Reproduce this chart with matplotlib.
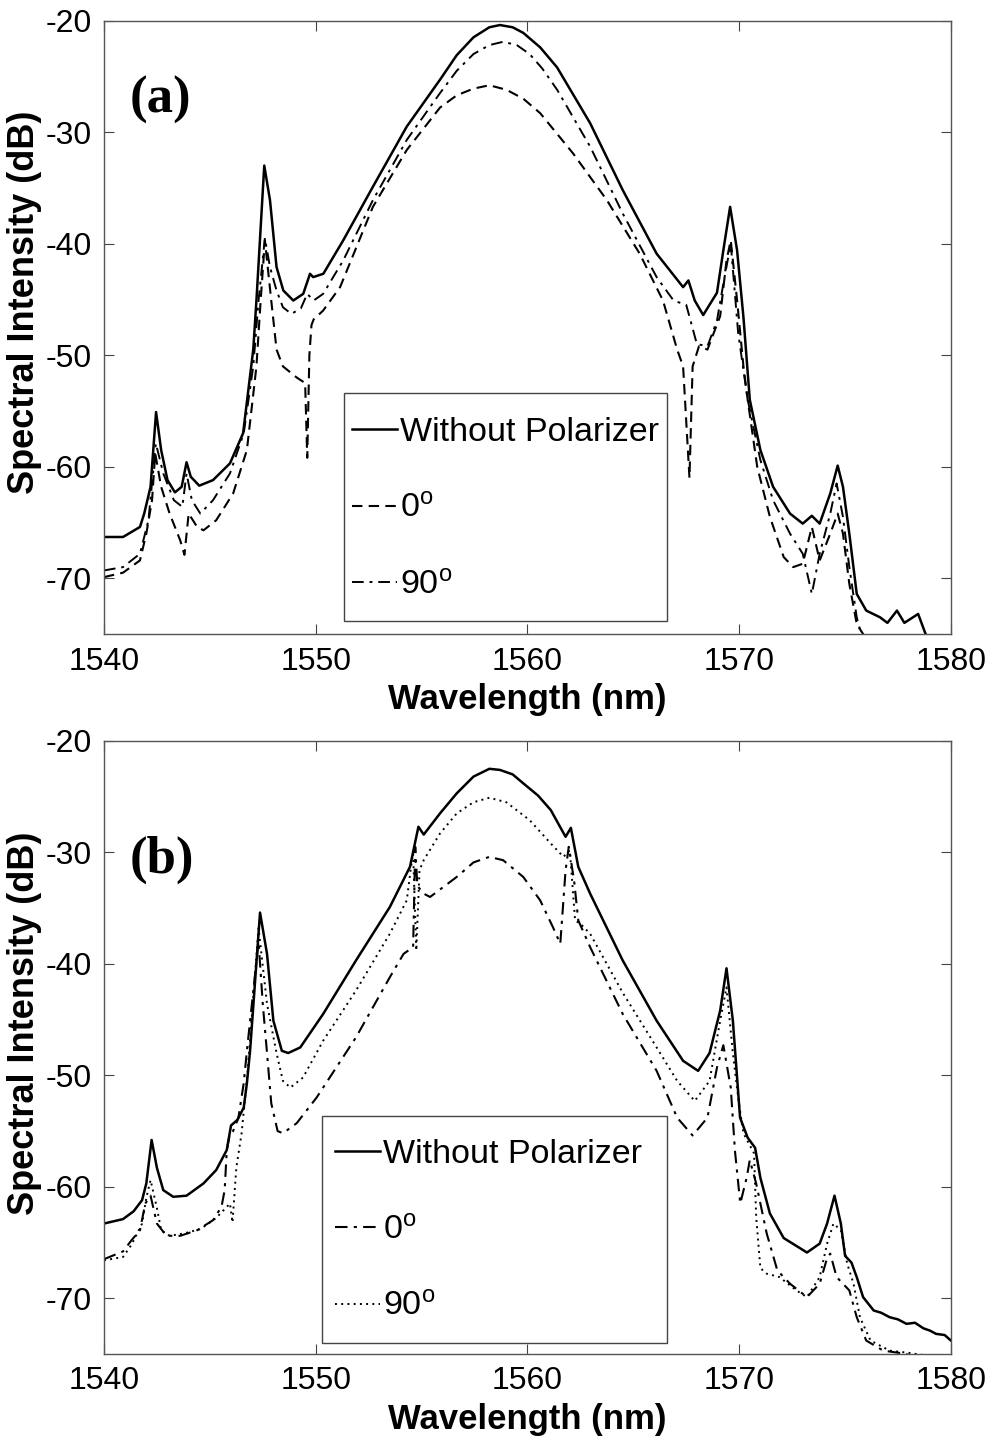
import matplotlib
matplotlib.use("Agg")
import matplotlib.pyplot as plt
from matplotlib.patches import Rectangle

# ---------------- data: panel (a) ----------------
wl_a_nopol = [1540.0, 1540.9, 1541.7, 1541.9, 1542.2, 1542.46, 1542.7, 1543.0, 1543.35, 1543.67, 1543.9, 1544.1,
              1544.5, 1545.15, 1545.95, 1546.57, 1547.05, 1547.2, 1547.57, 1547.84, 1548.15, 1548.47, 1548.94,
              1549.41, 1549.73, 1549.88, 1550.36, 1551.3, 1552.7, 1554.3, 1555.87, 1556.66, 1557.45, 1558.2,
              1558.7, 1559.3, 1559.8, 1560.6, 1561.4, 1562.96, 1564.5, 1566.1, 1567.35, 1567.6, 1567.9, 1568.3,
              1568.95, 1569.25, 1569.57, 1569.9, 1570.2, 1570.5, 1571.0, 1571.6, 1572.4, 1573.0, 1573.43, 1573.8,
              1574.3, 1574.65, 1574.9, 1575.2, 1575.55, 1576.0, 1576.65, 1577.0, 1577.45, 1577.8, 1578.45, 1578.9]
int_a_nopol = [-66.3, -66.3, -65.4, -64.2, -61.8, -55.1, -58.5, -61.2, -62.3, -61.8, -59.6, -60.9, -61.7, -61.2,
               -59.7, -57.0, -49.5, -45.1, -33.0, -36.1, -42.1, -44.2, -45.1, -44.5, -42.7, -43.0, -42.7, -39.7,
               -34.9, -29.5, -25.3, -23.1, -21.5, -20.6, -20.4, -20.6, -21.1, -22.4, -24.2, -29.2, -35.2, -40.9,
               -43.9, -43.3, -45.1, -46.4, -44.4, -40.6, -36.7, -40.6, -46.6, -54.0, -58.5, -61.8, -64.2, -65.1,
               -64.4, -65.1, -62.4, -59.9, -61.8, -66.0, -71.4, -72.9, -73.5, -74.0, -72.9, -74.0, -73.2, -75.5]

wl_a_0 = [1540.0, 1540.9, 1541.7, 1542.0, 1542.27, 1542.42, 1542.7, 1543.1, 1543.6, 1543.8, 1544.0, 1544.4, 1544.7,
          1545.3, 1546.1, 1546.75, 1547.2, 1547.4, 1547.6, 1547.9, 1548.15, 1548.45, 1549.1, 1549.5, 1549.6,
          1549.7, 1549.8, 1549.9, 1550.35, 1551.15, 1552.7, 1554.3, 1555.87, 1556.66, 1557.45, 1558.2, 1559.0,
          1559.8, 1560.6, 1562.15, 1563.75, 1565.3, 1566.4, 1567.07, 1567.35, 1567.65, 1567.8, 1568.1, 1568.5,
          1569.1, 1569.4, 1569.6, 1569.9, 1570.2, 1570.4, 1570.85, 1571.45, 1572.1, 1572.55, 1573.0, 1573.43,
          1573.8, 1574.3, 1574.65, 1574.9, 1575.2, 1575.55, 1575.85, 1576.2]
int_a_0 = [-69.9, -69.5, -68.4, -66.0, -63.0, -58.8, -61.8, -64.2, -66.6, -67.9, -64.2, -65.4, -65.7, -64.8,
           -62.4, -58.5, -51.0, -45.1, -39.7, -45.1, -49.5, -51.0, -52.0, -52.5, -59.2, -50.0, -47.3, -46.8,
           -46.0, -43.9, -36.7, -31.6, -27.8, -26.7, -26.1, -25.8, -26.2, -27.0, -28.3, -31.9, -36.1, -40.9,
           -45.1, -49.5, -51.0, -61.0, -51.0, -49.2, -49.5, -46.5, -41.5, -39.7, -45.1, -51.0, -54.0, -60.0,
           -64.5, -68.1, -69.0, -68.7, -65.4, -68.4, -66.0, -64.2, -66.0, -70.5, -74.1, -75.0, -76.0]

wl_a_90 = [1540.0, 1540.9, 1541.7, 1542.1, 1542.45, 1542.8, 1543.3, 1543.7, 1543.9, 1544.15, 1544.55, 1545.15,
           1545.95, 1546.6, 1547.05, 1547.3, 1547.6, 1547.84, 1548.15, 1548.45, 1548.85, 1549.3, 1549.6, 1549.9,
           1550.35, 1551.3, 1552.7, 1554.3, 1555.87, 1556.66, 1557.45, 1558.2, 1558.85, 1559.5, 1560.1, 1560.7,
           1561.4, 1562.96, 1564.5, 1566.1, 1566.9, 1567.5, 1568.0, 1568.5, 1568.95, 1569.25, 1569.6, 1569.95,
           1570.4, 1571.0, 1571.6, 1572.4, 1573.0, 1573.43, 1573.8, 1574.3, 1574.6, 1574.9, 1575.2, 1575.55,
           1575.9]
int_a_90 = [-69.3, -69.0, -67.8, -64.8, -57.9, -60.6, -63.0, -63.6, -60.6, -63.0, -64.2, -63.0, -60.6, -57.0,
            -51.0, -45.1, -39.5, -42.1, -44.2, -45.7, -46.3, -45.8, -44.5, -45.1, -44.5, -41.5, -36.1, -30.7,
            -26.5, -24.5, -23.0, -22.2, -21.9, -22.2, -23.0, -24.3, -26.2, -31.3, -37.3, -43.0, -45.1, -45.5,
            -49.0, -49.2, -46.9, -43.6, -40.0, -48.0, -54.0, -59.4, -63.0, -66.0, -67.8, -71.4, -67.8, -64.2,
            -61.5, -64.5, -69.0, -73.5, -76.0]

# ---------------- data: panel (b) ----------------
wl_b_nopol = [1540.0, 1540.9, 1541.4, 1541.8, 1542.0, 1542.25, 1542.5, 1542.8, 1543.27, 1543.9, 1544.7, 1545.3,
              1545.8, 1546.0, 1546.3, 1546.6, 1546.75, 1546.9, 1547.37, 1547.7, 1548.0, 1548.4, 1548.7, 1549.27,
              1550.35, 1551.9, 1553.5, 1554.45, 1554.85, 1555.1, 1555.87, 1556.66, 1557.45, 1558.2, 1558.7,
              1559.3, 1559.8, 1560.5, 1561.1, 1561.8, 1562.05, 1562.4, 1562.96, 1564.5, 1566.1, 1567.35, 1568.06,
              1568.6, 1569.1, 1569.4, 1569.7, 1570.04, 1570.4, 1570.75, 1571.0, 1571.45, 1572.1, 1573.2, 1573.8,
              1574.15, 1574.5, 1574.8, 1575.0, 1575.3, 1575.55, 1575.85, 1576.35, 1576.7, 1577.1, 1577.5,
              1577.9, 1578.3, 1578.7, 1579.0, 1579.3, 1579.7, 1580.0]
int_b_nopol = [-63.3, -62.9, -62.2, -61.2, -59.7, -55.8, -58.3, -60.3, -60.9, -60.8, -59.7, -58.5, -56.7, -54.5,
               -54.0, -52.9, -50.7, -47.8, -35.4, -39.1, -45.1, -47.8, -48.0, -47.5, -44.5, -39.7, -34.9, -31.3,
               -27.7, -28.4, -26.5, -24.7, -23.2, -22.5, -22.6, -23.0, -23.8, -24.9, -26.2, -28.6, -27.8, -31.3,
               -33.7, -39.7, -45.1, -48.7, -49.6, -48.0, -44.2, -40.4, -45.1, -53.8, -55.6, -56.5, -59.2, -62.4,
               -64.6, -65.9, -65.1, -63.3, -60.8, -63.3, -66.2, -66.8, -68.1, -69.9, -71.1, -71.3, -71.7, -71.9,
               -72.3, -72.2, -72.7, -72.9, -73.2, -73.3, -73.8]

wl_b_0 = [1540.0, 1540.9, 1541.3, 1541.7, 1541.95, 1542.2, 1542.5, 1542.95, 1543.6, 1544.4, 1545.15, 1545.55,
          1545.7, 1545.8, 1545.95, 1546.1, 1546.35, 1546.6, 1546.75, 1547.3, 1547.5, 1547.7, 1547.9, 1548.2,
          1548.45, 1549.1, 1550.04, 1551.9, 1553.5, 1554.15, 1554.6, 1554.7, 1554.8, 1555.1, 1555.4, 1556.66,
          1557.45, 1558.2, 1558.85, 1559.8, 1560.6, 1561.2, 1561.55, 1561.8, 1561.95, 1562.2, 1562.4, 1562.96,
          1564.5, 1566.1, 1567.07, 1567.8, 1568.5, 1568.95, 1569.25, 1569.6, 1569.8, 1570.05, 1570.35, 1570.5,
          1570.8, 1571.3, 1571.8, 1572.4, 1573.2, 1573.8, 1574.15, 1574.3, 1574.6, 1574.9, 1575.2, 1575.55,
          1576.0, 1576.8, 1577.9, 1578.5]
int_b_0 = [-66.5, -65.8, -64.8, -63.9, -61.5, -60.8, -63.3, -64.4, -64.4, -63.9, -63.0, -61.8, -60.3, -56.7,
           -55.2, -55.0, -53.8, -50.7, -47.8, -38.0, -43.6, -48.0, -52.5, -55.0, -55.2, -54.3, -52.0, -46.6,
           -41.2, -39.1, -38.5, -29.5, -33.0, -33.7, -34.0, -32.2, -30.9, -30.4, -30.7, -32.2, -34.3, -36.7,
           -38.2, -31.6, -29.5, -32.5, -36.1, -38.5, -44.5, -49.6, -53.8, -55.4, -53.8, -49.3, -47.3, -51.1,
           -56.8, -61.5, -59.2, -57.6, -59.7, -64.2, -67.5, -68.7, -69.9, -68.7, -66.4, -66.0, -68.1, -68.7,
           -69.3, -71.7, -73.8, -74.7, -75.0, -76.0]

wl_b_90 = [1540.0, 1540.9, 1541.3, 1541.8, 1542.0, 1542.2, 1542.5, 1542.7, 1543.1, 1543.75, 1544.55, 1545.3,
           1545.95, 1546.07, 1546.25, 1546.5, 1546.65, 1546.8, 1547.3, 1547.7, 1548.15, 1548.45, 1548.8, 1549.4,
           1550.35, 1551.9, 1553.5, 1554.3, 1554.5, 1554.6, 1554.75, 1554.9, 1555.1, 1555.87, 1556.66, 1557.45,
           1558.2, 1559.0, 1560.1, 1561.1, 1561.7, 1562.0, 1562.25, 1562.5, 1562.96, 1564.5, 1566.1, 1567.07,
           1567.9, 1568.6, 1569.1, 1569.4, 1569.7, 1569.97, 1570.2, 1570.7, 1570.8, 1571.0, 1571.3, 1571.9,
           1572.7, 1573.2, 1573.8, 1574.15, 1574.45, 1574.8, 1575.1, 1575.4, 1575.7, 1576.2, 1577.1, 1578.0,
           1578.7, 1579.2]
int_b_90 = [-66.6, -66.3, -65.2, -63.3, -61.0, -59.4, -61.9, -63.9, -64.4, -64.2, -63.8, -62.8, -61.5, -63.2,
            -58.3, -55.2, -52.3, -49.3, -36.8, -43.6, -48.0, -50.5, -51.1, -50.2, -46.9, -42.4, -37.3, -34.3,
            -31.3, -30.1, -38.8, -31.6, -30.7, -28.3, -26.5, -25.5, -25.1, -25.5, -27.1, -29.2, -30.4, -29.8,
            -36.1, -36.4, -37.3, -42.6, -47.5, -50.5, -52.3, -50.5, -45.1, -42.1, -48.0, -52.3, -55.2, -57.0,
            -62.7, -67.3, -67.8, -68.1, -69.3, -69.9, -68.1, -65.1, -63.3, -63.9, -66.9, -68.7, -71.7, -73.8,
            -74.7, -74.9, -75.1, -76.0]

labels = ["Without Polarizer", "0$^{\\rm o}$", "90$^{\\rm o}$"]
x_ticks = [1540, 1550, 1560, 1570, 1580]
y_ticks = [-70, -60, -50, -40, -30, -20]
panel_tags = ["(a)", "(b)"]

# ---------------- styling ----------------
plt.rcParams["font.family"] = ["Liberation Sans", "DejaVu Sans"]
plt.rcParams["mathtext.fontset"] = "custom"
plt.rcParams["mathtext.rm"] = "Liberation Sans"
plt.rcParams["mathtext.it"] = "Liberation Sans"

DPI = 100
fig = plt.figure(figsize=(9.94, 14.39), dpi=DPI)

solid = "-"
dashed = (0, (5.0, 3.0))
dashdot = (0, (6.0, 3.0, 1.5, 3.0))
dotted = (0, (1.0, 2.2))

axes_rects = [[0.1046, 0.5594, 0.8521, 0.4263],
              [0.1046, 0.0591, 0.8521, 0.4260]]

series = [
    [(wl_a_nopol, int_a_nopol, solid, 1.8), (wl_a_0, int_a_0, dashed, 1.5), (wl_a_90, int_a_90, dashdot, 1.4)],
    [(wl_b_nopol, int_b_nopol, solid, 1.8), (wl_b_0, int_b_0, dashdot, 1.5), (wl_b_90, int_b_90, dotted, 1.4)],
]
# legend frame (x0, y0, w, h) and legend anchor (handle start x, middle-row y), all in axes fraction
legend_frames = [(0.2834, 0.0212, 0.3813, 0.3716), (0.2574, 0.0180, 0.4073, 0.3703)]
legend_anchor = [(0.2928, 0.2038), (0.2727, 0.2008)]
tag_pos = [(0.030, 0.87), (0.030, 0.806)]

for i in range(2):
    ax = fig.add_axes(axes_rects[i])
    for (x, y, ls, lw), lab in zip(series[i], labels):
        ax.plot(x, y, color="black", linestyle=ls, linewidth=lw, label=lab)
    ax.set_xlim(1540, 1580)
    ax.set_ylim(-75, -20)
    ax.set_xticks(x_ticks)
    ax.set_yticks(y_ticks)
    ax.set_yticklabels([str(v) for v in y_ticks])
    ax.tick_params(direction="in", length=7, width=0.8, top=True, right=True,
                   labelsize=23, color="#444444", pad=9)
    for sp in ax.spines.values():
        sp.set_color("#555555")
        sp.set_linewidth(1.0)
    ax.set_xlabel("Wavelength (nm)", fontsize=25, fontweight="bold", labelpad=5)
    ax.set_ylabel("Spectral Intensity (dB)", fontsize=26, fontweight="bold")
    ax.yaxis.set_label_coords(-0.073, 0.54)
    ax.text(tag_pos[i][0], tag_pos[i][1], panel_tags[i], transform=ax.transAxes,
            family="Liberation Serif", fontweight="bold", fontsize=38, va="center", ha="left")
    fx, fy, fw, fh = legend_frames[i]
    ax.add_patch(Rectangle((fx, fy), fw, fh, transform=ax.transAxes, facecolor="white",
                           edgecolor="#444444", linewidth=1.0, zorder=4))
    leg = ax.legend(loc="center left", bbox_to_anchor=legend_anchor[i], borderaxespad=0,
                    fontsize=24.5, handlelength=1.33, handletextpad=0.08, labelspacing=1.34,
                    borderpad=0, frameon=False)
    leg.set_zorder(5)

fig.savefig("out.png", dpi=DPI)
